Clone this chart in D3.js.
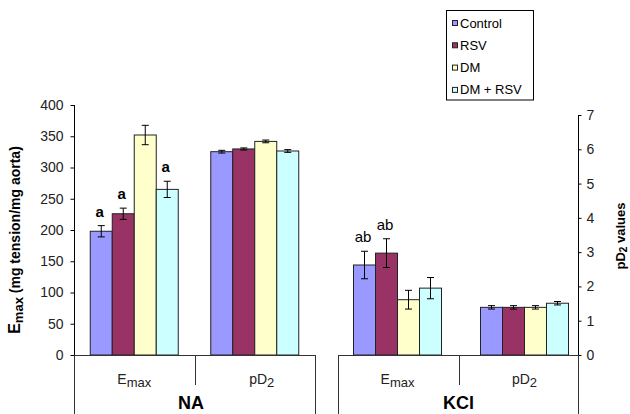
<!DOCTYPE html>
<html><head><meta charset="utf-8">
<script src="https://cdn.jsdelivr.net/npm/d3@7"></script>
<style>html,body{margin:0;padding:0;background:#fff;overflow:hidden}</style>
</head><body><svg id="c" width="630" height="414"></svg>
<script>
const series = ["Control","RSV","DM","DM + RSV"];
const seriesColors = ["#9999FF","#993366","#FFFFCC","#CCFFFF"];
const panels = ["NA","KCl"];
const measures = ["Emax","pD2"];
const naEmax = [198,226,352,265];
const naEmaxErr = [9,9,15.5,13];
const naPD2 = [5.93,6.01,6.23,5.95];
const naPD2Err = [0.04,0.03,0.04,0.04];
const kclEmax = [144,163,88.5,107];
const kclEmaxErr = [22,23,15,17];
const kclPD2 = [1.39,1.39,1.39,1.51];
const kclPD2Err = [0.05,0.05,0.05,0.05];
const naEmaxLetters = ["a","a","","a"];
const kclEmaxLetters = ["ab","ab","",""];
const leftTicks = [0,50,100,150,200,250,300,350,400];
const rightTicks = [0,1,2,3,4,5,6,7];

const svg = d3.select("#c");
const FONT = "'Liberation Sans', Arial, sans-serif";
const baseY = 355, bottom = 414;
const yL = d3.scaleLinear().domain([0,400]).range([baseY,105]);
const yR = d3.scaleLinear().domain([0,7]).range([baseY,115]);
const color = d3.scaleOrdinal().domain(series).range(seriesColors);

const panelBox = [[74.5,315.5],[338.5,578.5]];
const barRange = [[74,315],[334,588]];
const inner = d3.scaleBand().domain(series).range([-44,44]).padding(0);

const rows = [
  {panel:0, measure:"Emax", vals:naEmax, errs:naEmaxErr, letters:naEmaxLetters, scale:yL},
  {panel:0, measure:"pD2", vals:naPD2, errs:naPD2Err, letters:null, scale:yR},
  {panel:1, measure:"Emax", vals:kclEmax, errs:kclEmaxErr, letters:kclEmaxLetters, scale:yL},
  {panel:1, measure:"pD2", vals:kclPD2, errs:kclPD2Err, letters:null, scale:yR}
];
const xs = panels.map((p,i)=>d3.scaleBand().domain(measures).range(barRange[i]));

const ink = "#000";
rows.forEach(r=>{
  const x = xs[r.panel];
  const cx = x(r.measure)+x.bandwidth()/2;
  const g = svg.append("g");
  const d = series.map((s,i)=>({s, v:r.vals[i], e:r.errs[i], l:r.letters?r.letters[i]:""}));
  g.selectAll("rect").data(d).join("rect")
    .attr("x", q=>cx+inner(q.s))
    .attr("width", inner.bandwidth())
    .attr("y", q=>r.scale(q.v))
    .attr("height", q=>r.scale(0)-r.scale(q.v))
    .attr("fill", q=>color(q.s))
    .attr("stroke", "#222").attr("stroke-width",1);
  const eb = g.selectAll("g.eb").data(d).join("g").attr("class","eb")
    .attr("stroke", ink).attr("stroke-width",1);
  eb.append("line")
    .attr("x1", q=>cx+inner(q.s)+inner.bandwidth()/2)
    .attr("x2", q=>cx+inner(q.s)+inner.bandwidth()/2)
    .attr("y1", q=>r.scale(q.v+q.e)).attr("y2", q=>r.scale(q.v-q.e));
  [1,-1].forEach(sg=>{
    eb.append("line")
      .attr("x1", q=>cx+inner(q.s)+inner.bandwidth()/2-3.5)
      .attr("x2", q=>cx+inner(q.s)+inner.bandwidth()/2+3.5)
      .attr("y1", q=>r.scale(q.v+sg*q.e)).attr("y2", q=>r.scale(q.v+sg*q.e));
  });
  if (r.letters) {
    g.selectAll("text.lt").data(d.filter(q=>q.l)).join("text").attr("class","lt")
      .attr("x", q=>cx+inner(q.s)+inner.bandwidth()/2-1.5)
      .attr("y", q=>r.scale(q.v+q.e)-9)
      .attr("text-anchor","middle")
      .attr("font-family",FONT)
      .attr("font-size",15)
      .attr("font-weight", r.panel===0?"bold":"normal")
      .attr("fill","#000")
      .text(q=>q.l);
  }
});

// axes
const axL = svg.append("g").attr("transform","translate(74.5,0)")
  .call(d3.axisLeft(yL).tickValues(leftTicks).tickFormat(d3.format("d")).tickSize(4).tickPadding(7));
axL.select(".domain").remove();
axL.selectAll("line").attr("stroke",ink);
axL.selectAll("text").attr("font-family",FONT).attr("font-size",14).attr("fill","#222");
svg.append("line").attr("x1",74.5).attr("x2",74.5).attr("y1",yL(400)).attr("y2",bottom).attr("stroke",ink);

const axR = svg.append("g").attr("transform","translate(578.5,0)")
  .call(d3.axisRight(yR).tickValues(rightTicks).tickFormat(d3.format("d")).tickSize(3).tickPadding(5));
axR.select(".domain").remove();
axR.selectAll("line").attr("stroke",ink);
axR.selectAll("text").attr("font-family",FONT).attr("font-size",14).attr("fill","#222");
svg.append("line").attr("x1",578.5).attr("x2",578.5).attr("y1",yR(7)).attr("y2",bottom).attr("stroke",ink);

// category boxes
panelBox.forEach((b,i)=>{
  const g = svg.append("g").attr("stroke","#333").attr("stroke-width",1);
  g.append("line").attr("x1",b[0]).attr("x2",b[1]).attr("y1",baseY+0.5).attr("y2",baseY+0.5);
  g.append("line").attr("x1",b[0]).attr("x2",b[0]).attr("y1",baseY).attr("y2",bottom);
  g.append("line").attr("x1",b[1]).attr("x2",b[1]).attr("y1",baseY).attr("y2",bottom);
  const mid = Math.round((b[0]+b[1])/2)+0.5;
  g.append("line").attr("x1",mid).attr("x2",mid).attr("y1",baseY).attr("y2",385);
  svg.append("text").attr("x",(b[0]+b[1])/2 - (i===0?4:0)).attr("y",409)
    .attr("text-anchor","middle").attr("font-family",FONT).attr("font-size",18)
    .attr("font-weight","bold").attr("fill","#000").text(panels[i]);
  const x = xs[i];
  const t1 = svg.append("text").attr("x",x("Emax")+x.bandwidth()/2).attr("y",384)
    .attr("text-anchor","middle").attr("font-family",FONT).attr("fill","#222");
  t1.append("tspan").attr("font-size",14).text("E");
  t1.append("tspan").attr("font-size",13).attr("dy",3).text("max");
  const t2 = svg.append("text").attr("x",x("pD2")+x.bandwidth()/2 + (i===0?7:0)).attr("y",384)
    .attr("text-anchor","middle").attr("font-family",FONT).attr("fill","#222");
  t2.append("tspan").attr("font-size",14).text("pD");
  t2.append("tspan").attr("font-size",13).attr("dy",3).text("2");
});

// y titles
const tl = svg.append("text").attr("transform","translate(20,240) rotate(-90)")
  .attr("text-anchor","middle").attr("font-family",FONT).attr("font-weight","bold").attr("fill","#000");
tl.append("tspan").attr("font-size",16).text("E");
tl.append("tspan").attr("font-size",13).attr("dy",3).text("max");
tl.append("tspan").attr("font-size",14).attr("dy",-3).text(" (mg tension/mg aorta)");

const tr = svg.append("text").attr("transform","translate(625,236) rotate(-90)")
  .attr("text-anchor","middle").attr("font-family",FONT).attr("font-weight","bold").attr("fill","#000");
tr.append("tspan").attr("font-size",13).text("pD");
tr.append("tspan").attr("font-size",10).attr("dy",2).text("2");
tr.append("tspan").attr("font-size",13).attr("dy",-2).text(" values");

// legend
const lg = svg.append("g");
lg.append("rect").attr("x",446.5).attr("y",10.5).attr("width",87).attr("height",89.5)
  .attr("fill","#fff").attr("stroke","#000");
const li = lg.selectAll("g.li").data(series).join("g").attr("class","li")
  .attr("transform",(d,i)=>`translate(0,${23 + i*22.3})`);
li.append("rect").attr("x",452.5).attr("y",-2.5).attr("width",5).attr("height",5)
  .attr("fill",d=>color(d)).attr("stroke","#222");
li.append("text").attr("x",460).attr("y",4.5).attr("font-family",FONT).attr("font-size",13)
  .attr("fill","#000").text(d=>d);
</script></body></html>
